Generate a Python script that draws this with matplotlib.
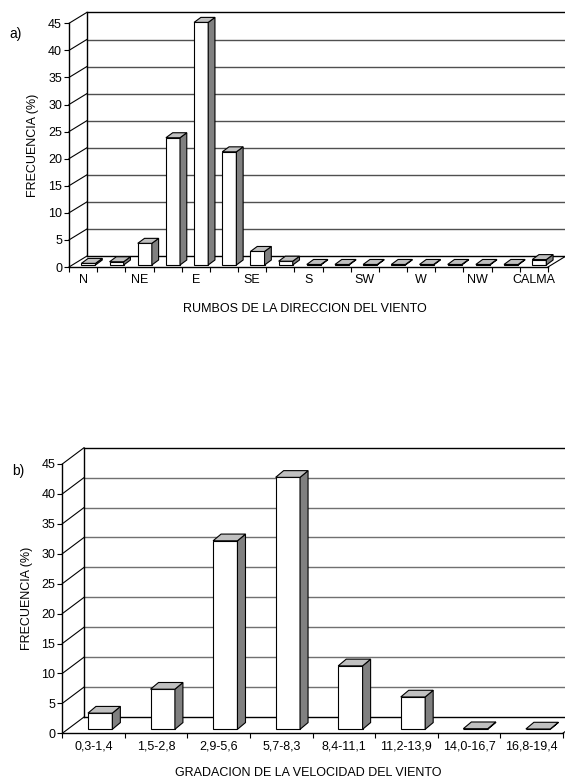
import matplotlib
matplotlib.use('Agg')
import matplotlib.pyplot as plt
from matplotlib.patches import Polygon
import numpy as np

plt.rcParams['font.family'] = ['Liberation Sans', 'DejaVu Sans']
plt.rcParams['font.size'] = 9

# a) wind direction frequency (%)
rumbos = ['N', 'NNE', 'NE', 'ENE', 'E', 'ESE', 'SE', 'SSE', 'S', 'SSW',
          'SW', 'WSW', 'W', 'WNW', 'NW', 'NNW', 'CALMA']
frec_rumbos = [0.3, 0.6, 4.0, 23.5, 44.8, 20.9, 2.5, 0.7, 0.1, 0.1,
               0.1, 0.1, 0.1, 0.1, 0.1, 0.1, 1.0]
# only every other direction gets a label
rumbos_etiquetas = [r if k % 2 == 0 else '' for k, r in enumerate(rumbos)]

# b) wind speed classes frequency (%)
velocidad = ['0,3-1,4', '1,5-2,8', '2,9-5,6', '5,7-8,3', '8,4-11,1',
             '11,2-13,9', '14,0-16,7', '16,8-19,4']
frec_velocidad = [2.7, 6.7, 31.5, 42.1, 10.6, 5.4, 0.1, 0.05]

y_ticks = np.arange(0, 50, 5)

W, H = 565, 780
fig = plt.figure(figsize=(W / 100, H / 100), dpi=100)


def px_axes(left, right, top, bottom):
    # pixel box -> figure fraction
    return [left / W, 1 - bottom / H, (right - left) / W, (bottom - top) / H]


def draw_panel(ax, vals, labels, dx, dy, front_off, bw, base, sdx, sdy, grid_color):
    n = len(vals)
    ax.set_xlim(0, n)
    ax.set_ylim(0, 45)
    for s in ['top', 'right']:
        ax.spines[s].set_visible(False)
    for s in ['left', 'bottom']:
        ax.spines[s].set_linewidth(1.0)
    ax.set_yticks(y_ticks)
    ax.set_xticks(np.arange(n + 1))
    ax.set_xticklabels([])
    ax.set_xticks(np.arange(n) + 0.5, minor=True)
    ax.set_xticklabels(labels, minor=True)
    ax.tick_params(axis='both', which='major', direction='out', length=3.5, width=0.8, pad=1.5)
    ax.tick_params(axis='x', which='minor', length=0, pad=5)
    ax.patch.set_visible(False)

    # back wall, left wall and floor edges
    for v in y_ticks:
        col = 'black' if v in (0, 45) else grid_color
        lw = 1.0 if v in (0, 45) else 1.0
        ax.plot([dx, n + dx], [v + dy, v + dy], color=col, lw=lw, clip_on=False, zorder=1)
        ax.plot([0, dx], [v, v + dy], color='black', lw=0.8, clip_on=False, zorder=1)
    ax.plot([dx, dx], [dy, 45 + dy], color='black', lw=1.0, clip_on=False, zorder=1)
    ax.plot([n, n + dx], [0, dy], color='black', lw=0.8, clip_on=False, zorder=1)

    # pseudo 3D bars
    for i, v in enumerate(vals):
        x0 = i + front_off
        x1 = x0 + bw
        front = [(x0, base), (x1, base), (x1, base + v), (x0, base + v)]
        side = [(x1, base), (x1 + sdx, base + sdy), (x1 + sdx, base + v + sdy), (x1, base + v)]
        top = [(x0, base + v), (x1, base + v), (x1 + sdx, base + v + sdy), (x0 + sdx, base + v + sdy)]
        for pts, fc in [(front, 'white'), (side, '#808080'), (top, '#c0c0c0')]:
            ax.add_patch(Polygon(pts, closed=True, facecolor=fc, edgecolor='black',
                                 lw=0.8, joinstyle='miter', clip_on=False, zorder=3))


ax_a = fig.add_axes(px_axes(69, 548, 23.3, 267))
draw_panel(ax_a, frec_rumbos, rumbos_etiquetas, dx=0.63, dy=2.0, front_off=0.44, bw=0.5,
           base=0.37, sdx=0.24, sdy=0.92, grid_color='#505050')

ax_b = fig.add_axes(px_axes(62.3, 562.8, 464, 733.3))
draw_panel(ax_b, frec_velocidad, velocidad, dx=0.347, dy=2.72, front_off=0.41, bw=0.39,
           base=0.67, sdx=0.128, sdy=1.12, grid_color='#707070')

# labels
fig.text(16 / W, 1 - 34 / H, 'a)', ha='center', va='center', fontsize=10)
fig.text(18 / W, 1 - 471 / H, 'b)', ha='center', va='center', fontsize=10)
fig.text(33 / W, 1 - 145 / H, 'FRECUENCIA (%)', rotation=90, ha='center', va='center')
fig.text(27 / W, 1 - 598 / H, 'FRECUENCIA (%)', rotation=90, ha='center', va='center')
fig.text(305 / W, 1 - 309 / H, 'RUMBOS DE LA DIRECCION DEL VIENTO', ha='center', va='center')
fig.text(308 / W, 1 - 773 / H, 'GRADACION DE LA VELOCIDAD DEL VIENTO', ha='center', va='center')

fig.savefig('out.png', dpi=100)
